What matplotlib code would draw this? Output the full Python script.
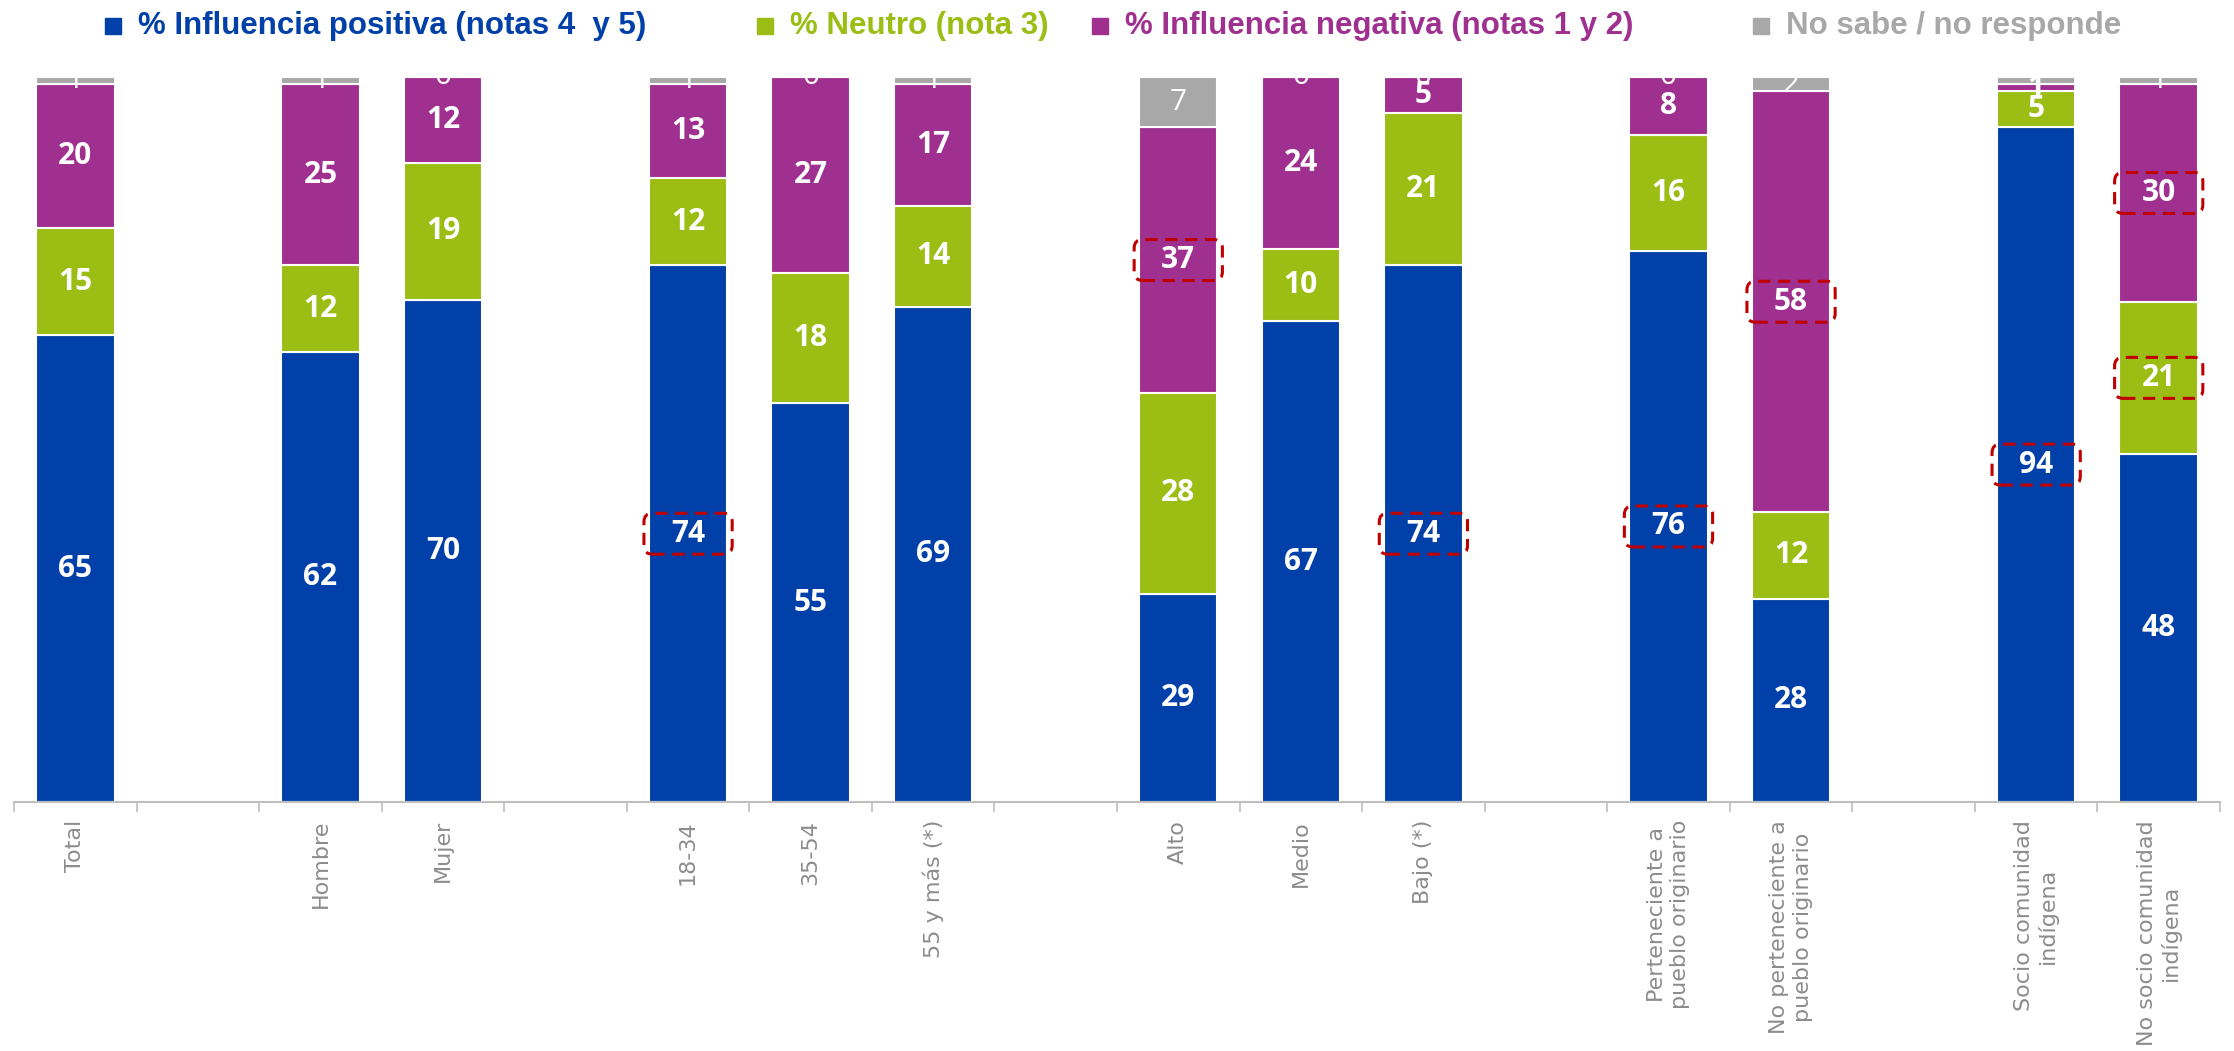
import numpy as np
import matplotlib
matplotlib.use("Agg")
import matplotlib.pyplot as plt
from matplotlib.patches import FancyBboxPatch, Rectangle

# categorías (cadena vacía = hueco entre grupos)
categorias = ["Total", "", "Hombre", "Mujer", "", "18-34", "35-54", "55 y más (*)", "",
              "Alto", "Medio", "Bajo (*)", "", "Perteneciente a\npueblo originario",
              "No perteneciente a\npueblo originario", "", "Socio comunidad\nindígena",
              "No socio comunidad\nindígena"]

# valores por serie (None = hueco)
positiva = [65, None, 62, 70, None, 74, 55, 69, None, 29, 67, 74, None, 76, 28, None, 94, 48]
neutro = [15, None, 12, 19, None, 12, 18, 14, None, 28, 10, 21, None, 16, 12, None, 5, 21]
negativa = [20, None, 25, 12, None, 13, 27, 17, None, 37, 24, 5, None, 8, 58, None, 1, 30]
no_sabe = [1, None, 1, 0, None, 1, 0, 1, None, 7, 0, 0, None, 0, 2, None, 1, 1]

series = ["% Influencia positiva (notas 4  y 5)", "% Neutro (nota 3)",
          "% Influencia negativa (notas 1 y 2)", "No sabe / no responde"]
colores = ["#0040A8", "#9BBD14", "#A03090", "#A8A8A8"]

# valores resaltados con recuadro rojo: (categoría, índice de serie)
resaltados = [("18-34", 0), ("Alto", 2), ("Bajo (*)", 0), ("Perteneciente a\npueblo originario", 0),
              ("No perteneciente a\npueblo originario", 2), ("Socio comunidad\nindígena", 0),
              ("No socio comunidad\nindígena", 2), ("No socio comunidad\nindígena", 1)]

fig = plt.figure(figsize=(22.34, 10.51), dpi=100)
ax = fig.add_axes([0.00627, 0.23692, 0.98746, 0.68982])

x = np.arange(len(categorias))
ancho = 0.64
datos = [positiva, neutro, negativa, no_sabe]
matriz = np.array([[np.nan if a is None else a for a in vals] for vals in datos], dtype=float)
totales = np.nansum(matriz, axis=0)
totales[totales == 0] = 1
alturas = matriz / totales * 100  # barras apiladas al 100 %

base = np.zeros(len(categorias))
centros = {}
for s, col in enumerate(colores):
    v = alturas[s]
    ax.bar(x, np.nan_to_num(v), ancho, bottom=base, color=col, edgecolor="white", linewidth=1.5)
    for i in range(len(x)):
        if np.isnan(v[i]):
            continue
        c = base[i] + v[i] / 2
        centros[(categorias[i], s)] = (x[i], c)
        ax.text(x[i], c, "%d" % matriz[s, i], ha="center", va="center", color="white",
                fontsize=21.5, fontweight="bold" if s < 3 else "normal",
                family=["Open Sans", "DejaVu Sans"])
    base = base + np.nan_to_num(v)

# recuadros rojos discontinuos
aspecto = (1 / 7.25) / (1 / 122.6)
for clave in resaltados:
    cx, cy = centros[clave]
    w, h = 0.72, 5.65
    caja = FancyBboxPatch((cx - w / 2, cy - h / 2), w, h,
                          boxstyle="round,pad=0,rounding_size=0.07", mutation_aspect=aspecto,
                          fill=False, edgecolor="#C00000", linewidth=2.2,
                          linestyle=(0, (4, 2.5)), zorder=5, clip_on=False)
    ax.add_patch(caja)

ax.set_xlim(-0.5, len(categorias) - 0.5)
ax.set_ylim(0, 100)
ax.set_yticks([])
for lado in ["top", "right", "left"]:
    ax.spines[lado].set_visible(False)
ax.spines["bottom"].set_color("#BFBFBF")
ax.spines["bottom"].set_linewidth(1.5)

ax.set_xticks(x)
ax.set_xticklabels(categorias, rotation=90, color="#8C8C8C", fontsize=16,
                   family="DejaVu Sans", multialignment="center")
ax.set_xticks(np.arange(-0.5, len(categorias)), minor=True)
ax.tick_params(axis="x", which="major", length=0, pad=13)
ax.tick_params(axis="x", which="minor", length=7, width=1.2, color="#BFBFBF", direction="out")

# leyenda manual en la parte superior
pos_marca = [114, 766, 1101, 1762]
for nombre, col, px in zip(series, colores, pos_marca):
    fig.patches.append(Rectangle((px / 2234 - 0.004, 1 - 34 / 1051), 16 / 2234, 16 / 1051,
                                 transform=fig.transFigure, color=col))
    fig.text((px + 24) / 2234, 1 - 26 / 1051, nombre, color=col, fontsize=22.5,
             fontweight="bold", family=["Liberation Sans", "DejaVu Sans"], ha="left", va="center")

plt.savefig("out.png", dpi=100)
